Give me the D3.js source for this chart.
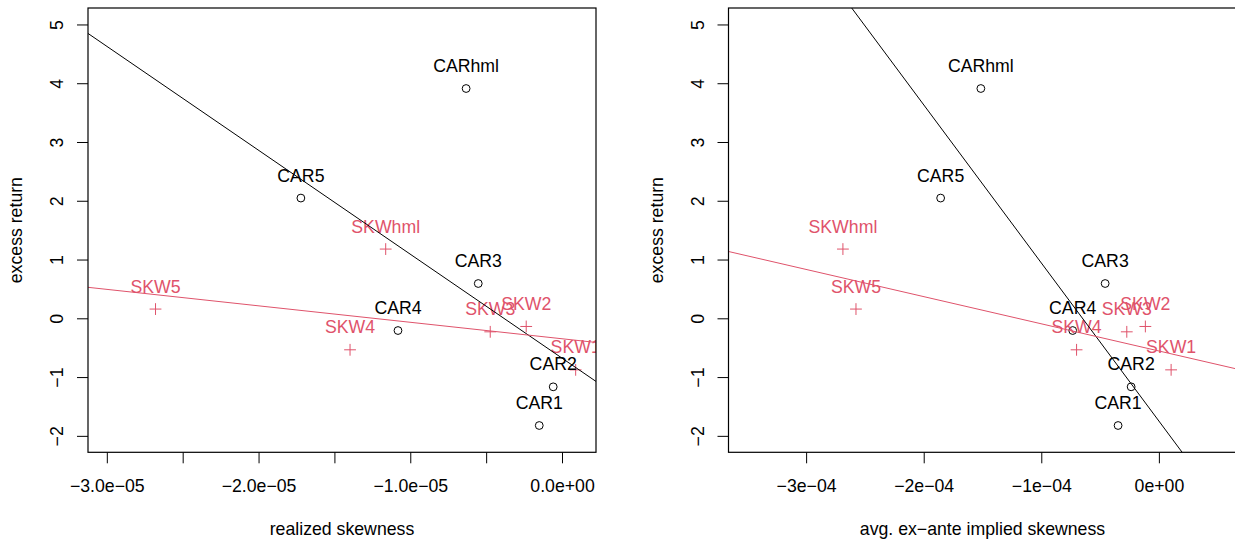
<!DOCTYPE html>
<html><head><meta charset="utf-8">
<script src="https://cdn.jsdelivr.net/npm/d3@7"></script>
<style>
body{margin:0;background:#fff}
svg{display:block}
text{font-family:"Liberation Sans",Arial,Helvetica,sans-serif}
</style>
</head><body>
<svg id="c" width="1235" height="539"></svg>
<script>
// ---------------- data ----------------
const carNames = ["CAR1", "CAR2", "CAR3", "CAR4", "CAR5", "CARhml"];
const carRealized = [-1.50e-6, -0.58e-6, -5.52e-6, -10.81e-6, -17.21e-6, -6.32e-6];
const carImplied = [-3.47e-5, -2.36e-5, -4.57e-5, -7.33e-5, -18.56e-5, -15.14e-5];
const carReturn = [-1.824, -1.166, 0.592, -0.208, 2.046, 3.91];

const skwNames = ["SKW1", "SKW2", "SKW3", "SKW4", "SKW5", "SKWhml"];
const skwRealized = [0.90e-6, -2.36e-6, -4.73e-6, -13.97e-6, -26.79e-6, -11.62e-6];
const skwImplied = [1.04e-5, -1.15e-5, -2.73e-5, -7.00e-5, -25.76e-5, -26.87e-5];
const skwReturn = [-0.877, -0.139, -0.230, -0.536, 0.157, 1.178];

const xlimLeft = [-3.0e-5, 1.0e-6];
const xlimRight = [-3.5e-4, 0.5e-4];
const ylim = [-2, 5];

const xTicksLeft = [-3.0e-5, -2.5e-5, -2.0e-5, -1.5e-5, -1.0e-5, -0.5e-5, 0];
const xTickLabelsLeft = ["\u22123.0e\u221205", "", "\u22122.0e\u221205", "", "\u22121.0e\u221205", "", "0.0e+00"];
const xTicksRight = [-3e-4, -2e-4, -1e-4, 0];
const xTickLabelsRight = ["\u22123e\u221204", "\u22122e\u221204", "\u22121e\u221204", "0e+00"];
const yTicks = [-2, -1, 0, 1, 2, 3, 4, 5];
const yTickLabels = ["\u22122", "\u22121", "0", "1", "2", "3", "4", "5"];

const xTitleLeft = "realized skewness";
const xTitleRight = "avg. ex\u2212ante implied skewness";
const yTitle = "excess return";

// ---------------- style ----------------
const RED = "#DF536B";
const FS = 17.7;
const svg = d3.select("#c");

function expand(lim) {
  const r = lim[1] - lim[0];
  return [lim[0] - 0.04 * r, lim[1] + 0.04 * r];
}

function ols(xs, ys) {
  const n = xs.length;
  const mx = d3.mean(xs), my = d3.mean(ys);
  let sxy = 0, sxx = 0;
  for (let i = 0; i < n; i++) { sxy += (xs[i] - mx) * (ys[i] - my); sxx += (xs[i] - mx) ** 2; }
  const b = sxy / sxx;
  return { a: my - b * mx, b };
}

function panel(id, box, xlim, xTicks, xLabels, xTitle, carX, skwX) {
  const x = d3.scaleLinear().domain(expand(xlim)).range([box.l, box.r]);
  const y = d3.scaleLinear().domain(expand(ylim)).range([box.b, box.t]);
  const g = svg.append("g");

  svg.append("clipPath").attr("id", "clip" + id)
    .append("rect").attr("x", box.l).attr("y", box.t)
    .attr("width", box.r - box.l).attr("height", box.b - box.t);

  // x axis
  const xa = g.append("g").attr("transform", `translate(0,${box.b})`)
    .call(d3.axisBottom(x).tickValues(xTicks).tickFormat((d, i) => xLabels[i])
      .tickSize(11).tickSizeOuter(0).tickPadding(16));
  xa.select(".domain").remove();
  xa.selectAll("line").attr("stroke", "#000").attr("stroke-width", 1);
  xa.selectAll("text").attr("font-size", FS).attr("fill", "#000")
    .attr("font-family", '"Liberation Sans",Arial,sans-serif');

  // y axis
  const ya = g.append("g").attr("transform", `translate(${box.l},0)`)
    .call(d3.axisLeft(y).tickValues(yTicks).tickFormat((d, i) => yTickLabels[i])
      .tickSize(11).tickSizeOuter(0));
  ya.select(".domain").remove();
  ya.selectAll("line").attr("stroke", "#000").attr("stroke-width", 1);
  ya.selectAll("text").attr("x", null).attr("dy", null)
    .attr("text-anchor", "middle")
    .attr("transform", "translate(-24.6,0) rotate(-90)")
    .attr("font-size", FS).attr("fill", "#000")
    .attr("font-family", '"Liberation Sans",Arial,sans-serif');

  // titles
  g.append("text").attr("x", (box.l + box.r) / 2).attr("y", 535)
    .attr("text-anchor", "middle").attr("font-size", FS).text(xTitle);
  g.append("text")
    .attr("transform", `translate(${box.l - 65.8},${(box.t + box.b) / 2}) rotate(-90)`)
    .attr("text-anchor", "middle").attr("font-size", FS).text(yTitle);

  const inner = g.append("g").attr("clip-path", `url(#clip${id})`);

  // CAR points
  inner.selectAll("circle.car").data(carNames).join("circle")
    .attr("cx", (d, i) => x(carX[i])).attr("cy", (d, i) => y(carReturn[i]))
    .attr("r", 3.9).attr("fill", "none").attr("stroke", "#000").attr("stroke-width", 1);
  // SKW points
  inner.selectAll("path.skw").data(skwNames).join("path")
    .attr("transform", (d, i) => `translate(${x(skwX[i])},${y(skwReturn[i])})`)
    .attr("d", "M-5.9,0H5.9M0,-5.9V5.9").attr("stroke", RED).attr("stroke-width", 1).attr("fill", "none");

  // labels
  inner.selectAll("text.carl").data(carNames).join("text")
    .attr("x", (d, i) => x(carX[i])).attr("y", (d, i) => y(carReturn[i]) - 16.4)
    .attr("text-anchor", "middle").attr("font-size", FS).attr("fill", "#000").text(d => d);
  inner.selectAll("text.skwl").data(skwNames).join("text")
    .attr("x", (d, i) => x(skwX[i])).attr("y", (d, i) => y(skwReturn[i]) - 16.4)
    .attr("text-anchor", "middle").attr("font-size", FS).attr("fill", RED).text(d => d);

  // regression lines
  const dom = x.domain();
  const fits = [{ f: ols(carX, carReturn), c: "#000" }, { f: ols(skwX, skwReturn), c: RED }];
  fits.forEach(({ f, c }) => {
    inner.append("line")
      .attr("x1", x(dom[0])).attr("y1", y(f.a + f.b * dom[0]))
      .attr("x2", x(dom[1])).attr("y2", y(f.a + f.b * dom[1]))
      .attr("stroke", c).attr("stroke-width", 1);
  });

  // box
  g.append("rect").attr("x", box.l).attr("y", box.t)
    .attr("width", box.r - box.l).attr("height", box.b - box.t)
    .attr("fill", "none").attr("stroke", "#000").attr("stroke-width", 1.2);
}

panel("L", { l: 88, r: 596, t: 8, b: 452.3 }, xlimLeft, xTicksLeft, xTickLabelsLeft, xTitleLeft, carRealized, skwRealized);
panel("R", { l: 728.5, r: 1236.5, t: 8, b: 452.3 }, xlimRight, xTicksRight, xTickLabelsRight, xTitleRight, carImplied, skwImplied);
</script>
</body></html>
